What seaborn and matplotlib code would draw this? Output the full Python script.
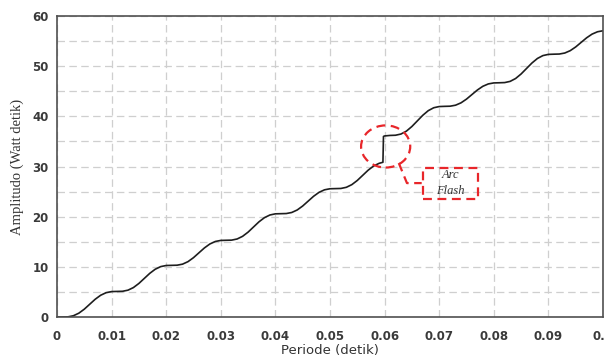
import numpy as np
import matplotlib
matplotlib.use("Agg")
import matplotlib.pyplot as plt
import seaborn as sns
import pandas as pd
from matplotlib.patches import Ellipse, Rectangle

# energy curve (t in s, E in Watt detik)
periode = [0.000, 0.001, 0.002, 0.003, 0.004, 0.005, 0.006, 0.007, 0.008, 0.009, 0.010,
           0.011, 0.012, 0.013, 0.014, 0.015, 0.016, 0.017, 0.018, 0.019, 0.020,
           0.021, 0.022, 0.023, 0.024, 0.025, 0.026, 0.027, 0.028, 0.029, 0.030,
           0.031, 0.032, 0.033, 0.034, 0.035, 0.036, 0.037, 0.038, 0.039, 0.040,
           0.041, 0.042, 0.043, 0.044, 0.045, 0.046, 0.047, 0.048, 0.049, 0.050,
           0.051, 0.052, 0.053, 0.054, 0.055, 0.056, 0.057, 0.058, 0.059, 0.0597,
           0.0598, 0.060, 0.061, 0.062, 0.063, 0.064, 0.065, 0.066, 0.067, 0.068, 0.069, 0.070,
           0.071, 0.072, 0.073, 0.074, 0.075, 0.076, 0.077, 0.078, 0.079, 0.080,
           0.081, 0.082, 0.083, 0.084, 0.085, 0.086, 0.087, 0.088, 0.089, 0.090,
           0.091, 0.092, 0.093, 0.094, 0.095, 0.096, 0.097, 0.098, 0.099, 0.100]
amplitudo = [0.0, 0.0, 0.03, 0.25, 0.76, 1.56, 2.55, 3.54, 4.34, 4.85, 5.07,
             5.1, 5.13, 5.35, 5.87, 6.69, 7.7, 8.71, 9.53, 10.05, 10.27,
             10.3, 10.33, 10.54, 11.04, 11.83, 12.8, 13.77, 14.56, 15.06, 15.27,
             15.3, 15.33, 15.56, 16.09, 16.92, 17.95, 18.98, 19.81, 20.34, 20.57,
             20.6, 20.63, 20.84, 21.34, 22.13, 23.1, 24.07, 24.86, 25.36, 25.57,
             25.6, 25.63, 25.86, 26.39, 27.22, 28.25, 29.28, 30.11, 30.64, 30.85,
             36.0, 36.1, 36.2, 36.24, 36.48, 37.06, 37.98, 39.1, 40.22, 41.14, 41.72, 41.96,
             42.0, 42.03, 42.23, 42.7, 43.44, 44.35, 45.26, 46.0, 46.47, 46.67,
             46.7, 46.74, 46.98, 47.55, 48.45, 49.55, 50.65, 51.55, 52.12, 52.36,
             52.4, 52.43, 52.63, 53.1, 53.84, 54.75, 55.66, 56.4, 56.87, 57.07]

x_ticks = [0, 0.01, 0.02, 0.03, 0.04, 0.05, 0.06, 0.07, 0.08, 0.09, 0.1]
x_tick_labels = ["0", "0.01", "0.02", "0.03", "0.04", "0.05", "0.06", "0.07", "0.08", "0.09", "0.1"]
y_ticks = [0, 10, 20, 30, 40, 50, 60]

sns.set_style("white")
plt.rcParams['font.family'] = ['DejaVu Sans']

df = pd.DataFrame({"Periode": periode, "Amplitudo": amplitudo})

fig = plt.figure(figsize=(6.06, 3.57), dpi=100)
ax = fig.add_axes([0.094, 0.112, 0.901, 0.843])

sns.lineplot(data=df, x="Periode", y="Amplitudo", ax=ax, color="#1e1e1e", linewidth=1.2)

ax.set_xlim(0, 0.1)
ax.set_ylim(0, 60)
ax.set_xticks(x_ticks)
ax.set_xticklabels(x_tick_labels)
ax.set_yticks(y_ticks)
ax.set_yticks(np.arange(5, 60, 10), minor=True)

gridstyle = dict(color="#cfcfcf", linestyle=(0, (6, 3.5)), linewidth=0.9)
ax.grid(True, which="major", **gridstyle)
ax.grid(True, which="minor", axis="y", **gridstyle)
ax.set_axisbelow(True)

ax.tick_params(axis="both", which="major", direction="out", length=4, width=1,
               color="#404040", labelsize=8.5, labelcolor="#3a3a3a", pad=2)
ax.tick_params(axis="y", which="minor", length=0)
ax.tick_params(axis="x", which="major", pad=5)
for lab in ax.get_xticklabels() + ax.get_yticklabels():
    lab.set_fontweight("semibold")

for s in ax.spines.values():
    s.set_visible(True)
    s.set_color("#505050")
    s.set_linewidth(1.2)

ax.set_xlabel("Periode (detik)", fontsize=9.5, color="#333333", labelpad=1)
ax.set_ylabel("Amplitudo (Watt detik)", fontsize=10.5, color="#333333",
              family="Liberation Serif", labelpad=6)

# arc flash annotation
red = "#e8262a"
ax.add_patch(Ellipse((0.0602, 34.0), 0.009, 8.4, fill=False, edgecolor=red,
                     linestyle=(0, (4, 2.5)), linewidth=1.6, zorder=5))
ax.plot([0.0626, 0.0641, 0.0668], [30.7, 26.7, 26.7], color=red,
        linestyle=(0, (4, 2.5)), linewidth=1.6, zorder=5)
ax.add_patch(Rectangle((0.0670, 23.5), 0.0101, 6.2, fill=False, edgecolor=red,
                       linestyle=(0, (4, 2.5)), linewidth=1.6, zorder=5))
ax.text(0.07205, 28.4, "Arc", family="Liberation Serif", style="italic",
        fontsize=9, ha="center", va="center", color="#333333", zorder=6)
ax.text(0.07205, 25.1, "Flash", family="Liberation Serif", style="italic",
        fontsize=9, ha="center", va="center", color="#333333", zorder=6)

fig.savefig("out.png", dpi=100)
